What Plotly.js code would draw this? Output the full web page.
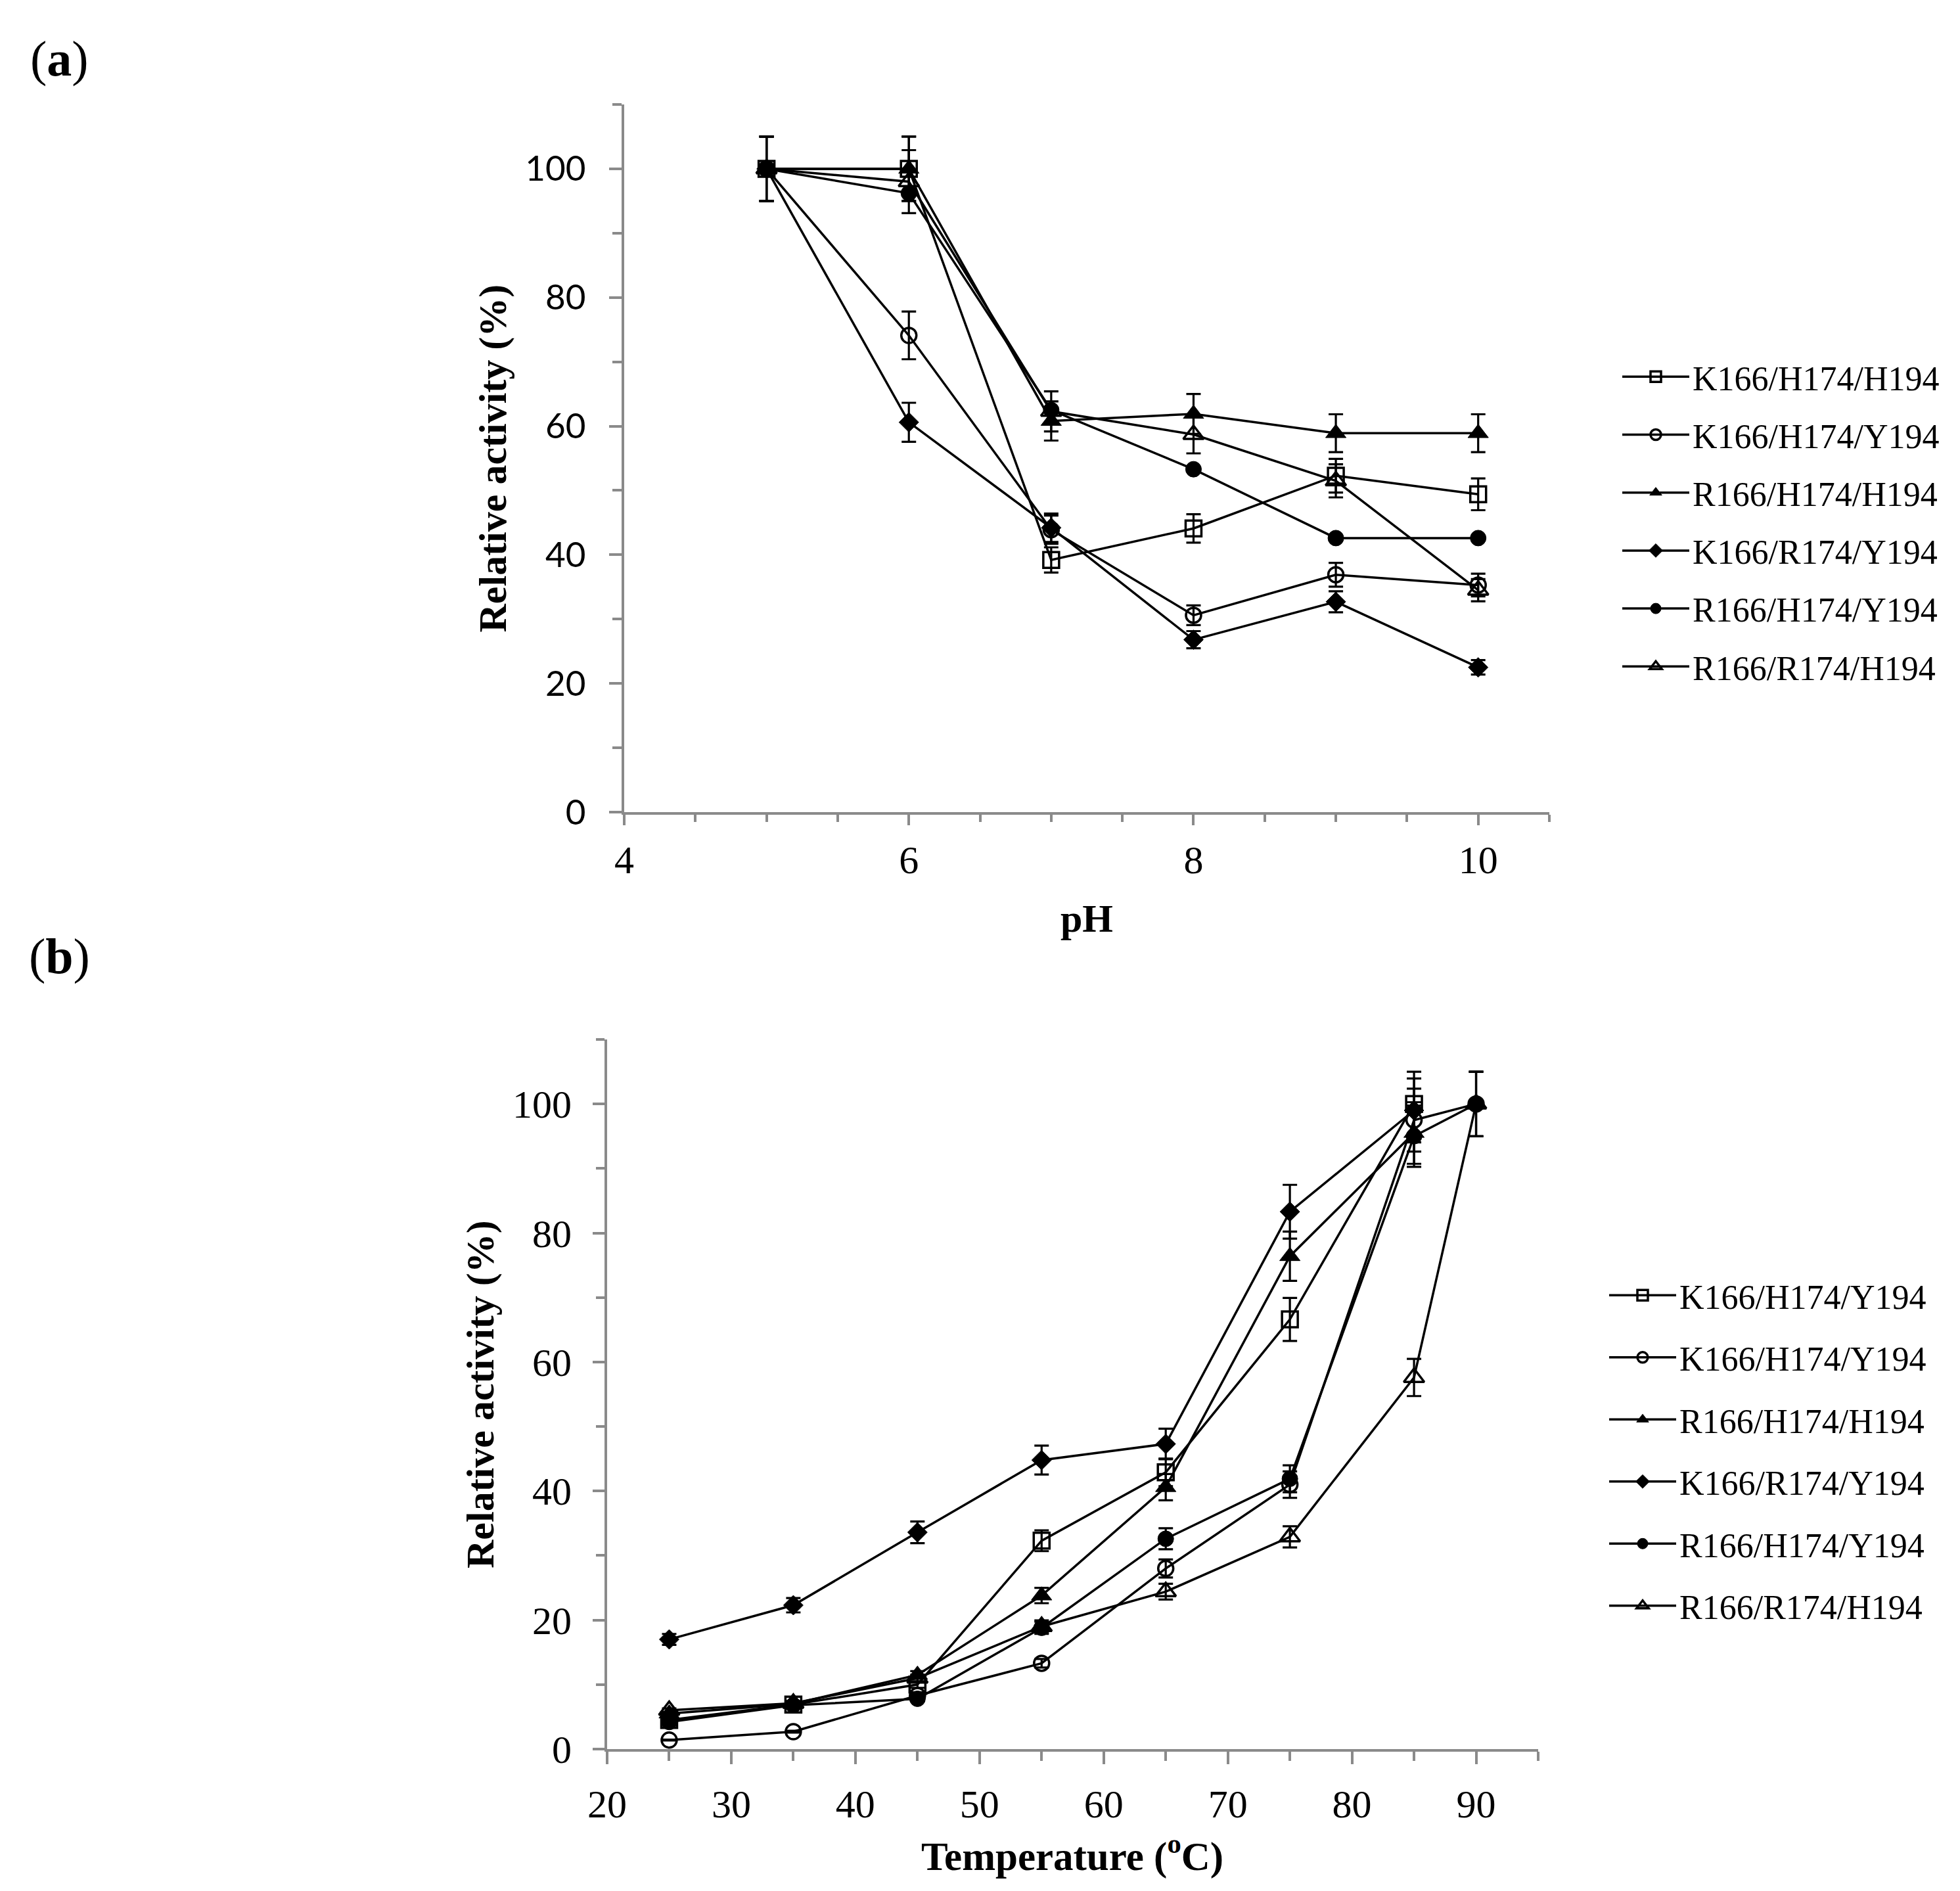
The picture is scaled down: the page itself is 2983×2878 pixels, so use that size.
<!DOCTYPE html>
<html>
<head>
<meta charset="utf-8">
<script src="https://cdn.plot.ly/plotly-3.0.1.min.js"></script>
<style>
html, body { margin: 0; padding: 0; background: #ffffff; }
#chart { width: 2983px; height: 2878px; }
</style>
</head>
<body>
<div id="chart"></div>
<script>
// ---------- data ----------
const phValues = [5, 6, 7, 8, 9, 10];
const tempValues = [25, 35, 45, 55, 65, 75, 85, 90];

const seriesNamesA = ['K166/H174/H194', 'K166/H174/Y194', 'R166/H174/H194',
                      'K166/R174/Y194', 'R166/H174/Y194', 'R166/R174/H194'];
const seriesNamesB = ['K166/H174/Y194', 'K166/H174/Y194', 'R166/H174/H194',
                      'K166/R174/Y194', 'R166/H174/Y194', 'R166/R174/H194'];

// (a) relative activity vs pH
const phK166H174H194 = [100, 100, 39.2, 44.1, 52.3, 49.4];
const phK166H174Y194 = [100, 74.1, 43.9, 30.6, 36.9, 35.3];
const phR166H174H194 = [100, 100, 60.8, 61.9, 58.9, 58.9];
const phK166R174Y194 = [100, 60.6, 44.2, 26.8, 32.7, 22.5];
const phR166H174Y194 = [100, 96.2, 62.5, 53.3, 42.6, 42.6];
const phR166R174H194 = [100, 98.0, 62.3, 58.7, 51.5, 34.5];

// (b) relative activity vs temperature
const tK166H174Y194sq = [4.5, 6.9, 10.0, 32.3, 42.9, 66.6, 100, null];
const tK166H174Y194ci = [1.4, 2.7, 8.3, 13.3, 28.0, 41.0, 97.5, 100];
const tR166H174H194   = [5.5, 7.0, 11.5, 23.8, 40.6, 76.4, 95.5, null];
const tK166R174Y194   = [17.0, 22.3, 33.6, 44.8, 47.3, 83.3, 99.0, null];
const tR166H174Y194   = [4.2, 6.8, 7.8, 18.8, 32.6, 41.9, 95.0, 100];
const tR166R174H194   = [6.0, 7.1, 11.0, 19.0, 24.4, 32.9, 57.6, 100];

// relative error shown on the bars (% of value)
const errorPercent = 5;

// ---------- styles ----------
const markerStyles = [
  { symbol: 'square-open',      size: 24, open: true  },
  { symbol: 'circle-open',      size: 23, open: true  },
  { symbol: 'triangle-up',      size: 27, open: false },
  { symbol: 'diamond',          size: 23, open: false },
  { symbol: 'circle',           size: 24, open: false },
  { symbol: 'triangle-up-open', size: 27, open: true  }
];
const errorVisibleA = [true, true, true, true, false, true];
const errorVisibleB = [true, true, true, true, true, true];

const AX = '#8a8a8a';
const SERIF = 'Liberation Serif, Times New Roman, serif';

function makeTrace(xv, yv, name, i, panel, showErr) {
  const ms = markerStyles[i];
  return {
    type: 'scatter',
    mode: 'lines+markers',
    x: xv,
    y: yv,
    name: name,
    xaxis: panel === 'a' ? 'x' : 'x2',
    yaxis: panel === 'a' ? 'y' : 'y2',
    legend: panel === 'a' ? 'legend' : 'legend2',
    legendgroup: panel + i,
    connectgaps: false,
    cliponaxis: false,
    line: { color: '#000000', width: 3.5 },
    marker: {
      symbol: ms.symbol,
      size: ms.size,
      color: '#000000',
      line: { color: '#000000', width: ms.open ? 3.5 : 1 }
    },
    error_y: showErr ? {
      type: 'percent', value: errorPercent, visible: true,
      color: '#000000', thickness: 3.2, width: 11
    } : { visible: false }
  };
}

const seriesA = [phK166H174H194, phK166H174Y194, phR166H174H194,
                 phK166R174Y194, phR166H174Y194, phR166R174H194];
const seriesB = [tK166H174Y194sq, tK166H174Y194ci, tR166H174H194,
                 tK166R174Y194, tR166H174Y194, tR166R174H194];

const traces = [];
seriesA.forEach((s, i) => traces.push(makeTrace(phValues, s, seriesNamesA[i], i, 'a', errorVisibleA[i])));
seriesB.forEach((s, i) => traces.push(makeTrace(tempValues, s, seriesNamesB[i], i, 'b', errorVisibleB[i])));

// ---------- layout ----------
const W = 2983, H = 2878;
const px = v => v / W;
const py = v => 1 - v / H;

function axisBase() {
  return {
    showgrid: false, zeroline: false, showline: true,
    linecolor: AX, linewidth: 4,
    ticks: 'outside', tickcolor: AX, tickwidth: 4,
    tickmode: 'linear', fixedrange: true
  };
}

const layout = {
  width: W, height: H,
  margin: { l: 0, r: 0, t: 0, b: 0 },
  paper_bgcolor: '#ffffff',
  plot_bgcolor: '#ffffff',
  showlegend: true,
  xaxis: Object.assign(axisBase(), {
    domain: [px(950), px(2358)], anchor: 'y',
    range: [4, 10.5], tick0: 4, dtick: 2, ticklen: 16,
    tickfont: { family: SERIF, size: 60, color: '#000' },
    ticklabelstandoff: 1,
    minor: { ticks: 'outside', tick0: 4, dtick: 0.5, ticklen: 11, tickwidth: 4, tickcolor: AX, showgrid: false }
  }),
  yaxis: Object.assign(axisBase(), {
    domain: [py(1236), py(159)], anchor: 'x',
    range: [0, 110], tick0: 0, dtick: 20, ticklen: 19,
    tickfont: { family: 'Liberation Sans Narrow, Lato, sans-serif', size: 53, color: '#000' },
    ticklabelstandoff: 25,
    minor: { ticks: 'outside', tick0: 0, dtick: 10, ticklen: 14, tickwidth: 4, tickcolor: AX, showgrid: false }
  }),
  xaxis2: Object.assign(axisBase(), {
    domain: [px(924), px(2341)], anchor: 'y2',
    range: [20, 95], tick0: 20, dtick: 10, ticklen: 19,
    tickfont: { family: SERIF, size: 60, color: '#000' },
    ticklabelstandoff: 9,
    minor: { ticks: 'outside', tick0: 20, dtick: 5, ticklen: 14, tickwidth: 4, tickcolor: AX, showgrid: false }
  }),
  yaxis2: Object.assign(axisBase(), {
    domain: [py(2662), py(1582)], anchor: 'x2',
    range: [0, 110], tick0: 0, dtick: 20, ticklen: 18,
    tickfont: { family: SERIF, size: 60, color: '#000' },
    ticklabelstandoff: 20,
    minor: { ticks: 'outside', tick0: 0, dtick: 10, ticklen: 13, tickwidth: 4, tickcolor: AX, showgrid: false }
  }),
  legend: {
    x: px(2464), y: py(533), xanchor: 'left', yanchor: 'top',
    bgcolor: 'rgba(0,0,0,0)', borderwidth: 0,
    font: { family: SERIF, size: 52, color: '#000' },
    itemwidth: 102, traceorder: 'grouped', tracegroupgap: 17.6
  },
  legend2: {
    x: px(2444), y: py(1931), xanchor: 'left', yanchor: 'top',
    bgcolor: 'rgba(0,0,0,0)', borderwidth: 0,
    font: { family: SERIF, size: 52, color: '#000' },
    itemwidth: 102, traceorder: 'grouped', tracegroupgap: 23.9
  },
  annotations: [
    { text: '(<b>a</b>)', xref: 'paper', yref: 'paper', x: px(90), y: py(89),
      xanchor: 'center', yanchor: 'middle', showarrow: false,
      font: { family: SERIF, size: 76, color: '#000' } },
    { text: '(<b>b</b>)', xref: 'paper', yref: 'paper', x: px(90), y: py(1455),
      xanchor: 'center', yanchor: 'middle', showarrow: false,
      font: { family: SERIF, size: 76, color: '#000' } },
    { text: '<b>pH</b>', xref: 'paper', yref: 'paper', x: px(1654), y: py(1398),
      xanchor: 'center', yanchor: 'middle', showarrow: false,
      font: { family: SERIF, size: 60, color: '#000' } },
    { text: '<b>Temperature (<sup>o</sup>C)</b>', xref: 'paper', yref: 'paper', x: px(1632), y: py(2821),
      xanchor: 'center', yanchor: 'middle', showarrow: false,
      font: { family: SERIF, size: 61, color: '#000' } },
    { text: '<b>Relative activity (%)</b>', xref: 'paper', yref: 'paper', x: px(749), y: py(697.5),
      xanchor: 'center', yanchor: 'middle', showarrow: false, textangle: -90,
      font: { family: SERIF, size: 60, color: '#000' } },
    { text: '<b>Relative activity (%)</b>', xref: 'paper', yref: 'paper', x: px(731), y: py(2122),
      xanchor: 'center', yanchor: 'middle', showarrow: false, textangle: -90,
      font: { family: SERIF, size: 60, color: '#000' } }
  ]
};

Plotly.newPlot('chart', traces, layout, { staticPlot: true, displayModeBar: false });
</script>
</body>
</html>
